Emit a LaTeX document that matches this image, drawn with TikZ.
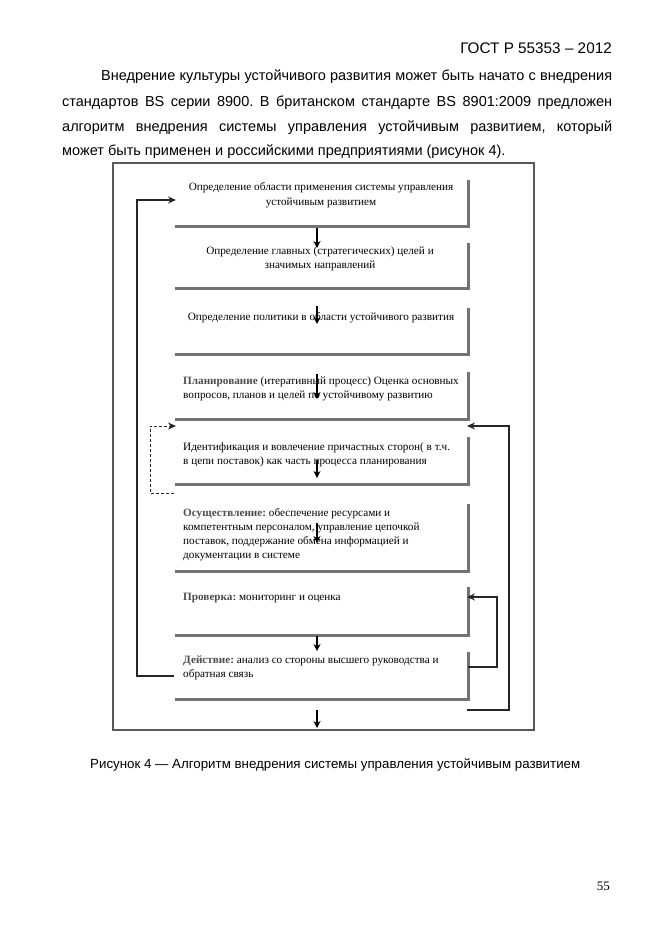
\documentclass[tikz,border=0pt]{standalone}
\usepackage{fontspec}
\setmainfont{Liberation Serif}
\newfontfamily\arial{Liberation Sans}
\usetikzlibrary{arrows.meta}
\frenchspacing
\tikzset{
  boxn/.style={inner sep=0pt, minimum width=293pt, anchor=north west},
  boxedge/.style={draw=black!55, line width=2.2pt},
  frame/.style={draw=black!65, line width=1.6pt},
  arr/.style={draw=black, line width=1.2pt, -{Stealth[length=7pt,width=7pt]}},
  loopl/.style={draw=black!85, line width=1.3pt, -{Stealth[length=8pt,width=7pt]}},
  txtc/.style={font=\fontsize{11.2}{14.5}\selectfont, align=center, inner sep=0pt},
  txtl/.style={font=\fontsize{11.2}{14}\selectfont, align=left, inner sep=0pt, anchor=west},
  body/.style={font=\arial\fontsize{14.5}{18}\selectfont, inner sep=0pt, anchor=base west}
}
\newcommand{\kw}[1]{\textbf{\color{black!70}#1}}
\begin{document}
\begin{tikzpicture}[x=1pt,y=-1pt]
\useasboundingbox (0,0) rectangle (661,935);
% header and body text
\node[font=\arial\fontsize{15.3}{18}\selectfont, inner sep=0pt, anchor=base east] (hdr) at (612,53) {ГОСТ Р 55353 – 2012};
\node[body] (l1) at (101,80) {\makebox[511pt][s]{Внедрение культуры устойчивого развития может быть начато с внедрения}};
\node[body] (l2) at (62,106) {\makebox[550pt][s]{стандартов BS серии 8900. В британском стандарте BS 8901:2009 предложен}};
\node[body] (l3) at (62,131) {\makebox[550pt][s]{алгоритм внедрения системы управления устойчивым развитием, который}};
\node[body] (l4) at (62,155) {может быть применен и российскими предприятиями (рисунок 4).};
% frame
\draw[frame] (113,163) rectangle (534,730);
% boxes
\node[boxn, minimum height=46pt] (b1) at (175,180) {};
\node[boxn, minimum height=45pt] (b2) at (175,243) {};
\node[boxn, minimum height=46pt] (b3) at (175,308) {};
\node[boxn, minimum height=47pt] (b4) at (175,372) {};
\node[boxn, minimum height=47pt] (b5) at (175,437) {};
\node[boxn, minimum height=67pt] (b6) at (175,504) {};
\node[boxn, minimum height=48pt] (b7) at (175,587) {};
\node[boxn, minimum height=47pt] (b8) at (175,652) {};
\foreach \b in {b1,b2,b3,b4,b5,b6,b7,b8}
  \draw[boxedge] (\b.north east) -- (\b.south east) -- (\b.south west);
% texts
\node[txtc] (t1) at (321,195) {Определение области применения системы управления\\устойчивым развитием};
\node[txtc] (t2) at (320,259) {Определение главных (стратегических) целей и\\значимых направлений};
\node[txtc] (t3) at (321,318) {Определение политики в области устойчивого развития};
\node[txtl] (t4) at (183,388.5) {\kw{Планирование} (итеративный процесс) Оценка основных\\вопросов, планов и целей по устойчивому развитию};
\node[txtl] (t5) at (183,455) {Идентификация и вовлечение причастных сторон( в т.ч.\\в цепи поставок) как часть процесса планирования};
\node[txtl] (t6) at (183,535) {\kw{Осуществление:} обеспечение ресурсами и\\компетентным персоналом, управление цепочкой\\поставок, поддержание обмена информацией и\\документации в системе};
\node[txtl] (t7) at (183,598) {\kw{Проверка:} мониторинг и оценка};
\node[txtl] (t8) at (183,668) {\kw{Действие:} анализ со стороны высшего руководства и\\обратная связь};
% down arrows
\foreach \i/\ya/\yb in {1/228/248, 2/306/324, 3/374/399, 4/460/478, 5/523/543, 6/636/651, 7/710/728}{
  \coordinate (s\i) at (317,\ya);
  \coordinate (e\i) at (317,\yb);
  \draw[arr] (s\i) -- (e\i);
}
% loops
\coordinate (p1) at (174,676);
\coordinate (p2) at (137,676);
\coordinate (p3) at (137,200);
\coordinate (p4) at (176,200);
\draw[loopl] (p1) -- (p2) -- (p3) -- (p4);
\coordinate (d1) at (174,493);
\coordinate (d2) at (150,493);
\coordinate (d3) at (150,426);
\coordinate (d4) at (176,426);
\draw[loopl, line width=1pt, dash pattern=on 3pt off 2pt] (d1) -- (d2) -- (d3) -- (d4);
\coordinate (r1) at (467,710);
\coordinate (r2) at (509,710);
\coordinate (r3) at (509,426);
\coordinate (r4) at (467,426);
\draw[loopl] (r1) -- (r2) -- (r3) -- (r4);
\coordinate (q1) at (468,667);
\coordinate (q2) at (497,667);
\coordinate (q3) at (497,597);
\coordinate (q4) at (467,597);
\draw[loopl] (q1) -- (q2) -- (q3) -- (q4);
% caption and page number
\node[font=\arial\fontsize{13.3}{16}\selectfont, inner sep=0pt, anchor=base west] (cap) at (90,768) {\makebox[490pt][s]{Рисунок 4 — Алгоритм внедрения системы управления устойчивым развитием}};
\node[font=\fontsize{13}{16}\selectfont, inner sep=0pt, anchor=base east] (pg) at (610,890) {55};
\end{tikzpicture}
\end{document}
